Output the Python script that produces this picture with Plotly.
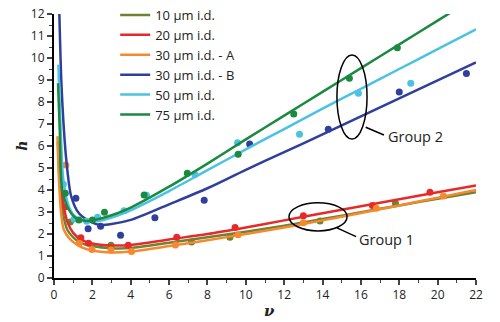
import plotly.graph_objects as go

names = ["10 μm i.d.", "20 μm i.d.", "30 μm i.d. - A", "30 μm i.d. - B", "50 μm i.d.", "75 μm i.d."]
colors = ["#6f8232", "#e8292b", "#f5892e", "#2f3f9c", "#4cc2e2", "#1b8a40"]

# fitted curves
c10_nu = [0.2, 0.28, 0.47, 0.7, 1.0, 1.4, 2.0, 3.0, 4.0, 6.0, 8.0, 10.0, 12.0, 14.0, 16.0, 18.0, 20.0, 22.0]
c10_h = [6.2, 4.6, 2.94, 2.18, 1.85, 1.6, 1.45, 1.35, 1.36, 1.6, 1.85, 2.1, 2.38, 2.68, 2.99, 3.3, 3.6, 3.9]
c20_nu = [0.25, 0.35, 0.5, 0.7, 1.0, 1.4, 2.0, 3.0, 4.0, 6.0, 8.0, 10.0, 12.0, 14.0, 16.0, 18.0, 20.0, 22.0]
c20_h = [6.0, 4.3, 3.3, 2.55, 2.05, 1.75, 1.57, 1.48, 1.5, 1.75, 2.0, 2.3, 2.62, 2.94, 3.26, 3.58, 3.9, 4.2]
c30a_nu = [0.18, 0.26, 0.37, 0.52, 0.87, 1.39, 2.0, 3.0, 4.0, 6.0, 8.0, 10.0, 12.0, 14.0, 16.0, 18.0, 20.0, 22.0]
c30a_h = [6.45, 4.45, 2.94, 2.18, 1.73, 1.42, 1.25, 1.16, 1.2, 1.45, 1.72, 2.0, 2.3, 2.62, 2.95, 3.3, 3.65, 4.0]
c30b_nu = [0.28, 0.38, 0.52, 0.66, 0.9, 1.3, 1.9, 2.4, 3.0, 4.0, 6.0, 8.0, 10.0, 12.0, 14.0, 16.0, 18.0, 20.0, 22.0]
c30b_h = [12.0, 9.0, 6.7, 5.2, 3.7, 2.94, 2.56, 2.41, 2.45, 2.64, 3.35, 4.08, 4.92, 5.72, 6.53, 7.35, 8.17, 8.98, 9.8]
c50_nu = [0.23, 0.35, 0.49, 0.78, 1.1, 1.8, 2.5, 3.0, 4.0, 6.0, 8.0, 10.0, 12.0, 14.0, 16.0, 18.0, 20.0, 22.0]
c50_h = [9.7, 6.7, 4.45, 3.24, 2.8, 2.56, 2.62, 2.75, 3.08, 3.95, 4.9, 5.85, 6.77, 7.7, 8.6, 9.5, 10.4, 11.3]
c75_nu = [0.21, 0.3, 0.43, 0.78, 1.1, 1.6, 2.0, 3.0, 4.0, 6.0, 8.0, 10.0, 12.0, 14.0, 16.0, 18.0, 20.0, 22.0]
c75_h = [8.85, 6.7, 4.0, 3.09, 2.75, 2.6, 2.62, 2.85, 3.2, 4.15, 5.2, 6.3, 7.38, 8.46, 9.54, 10.62, 11.7, 12.78]

# measured points
p10_nu = [0.85, 2.97, 7.17, 9.17, 13.87, 17.8]
p10_h = [2.55, 1.49, 1.64, 1.85, 2.59, 3.4]
p20_nu = [0.62, 1.4, 1.8, 3.87, 6.4, 9.44, 13.0, 16.6, 19.6]
p20_h = [3.24, 1.83, 1.58, 1.49, 1.85, 2.29, 2.83, 3.29, 3.9]
p30a_nu = [0.62, 1.32, 1.98, 2.97, 4.04, 6.33, 9.6, 13.0, 16.8, 20.3]
p30a_h = [5.14, 1.58, 1.3, 1.27, 1.2, 1.5, 1.97, 2.51, 3.17, 3.73]
p30b_nu = [1.14, 1.78, 2.43, 3.47, 5.26, 7.83, 10.2, 14.3, 18.0, 21.5]
p30b_h = [3.62, 2.24, 2.35, 1.94, 2.74, 3.53, 6.09, 6.76, 8.45, 9.29]
p50_nu = [0.49, 1.05, 1.7, 2.27, 3.65, 4.82, 7.35, 9.57, 12.8, 15.87, 18.6]
p50_h = [4.26, 2.68, 2.58, 2.76, 3.06, 3.76, 4.7, 6.15, 6.53, 8.4, 8.85]
p75_nu = [0.59, 1.3, 2.0, 2.63, 4.7, 6.95, 9.6, 12.5, 15.4, 17.9]
p75_h = [3.85, 2.64, 2.64, 2.99, 3.77, 4.76, 5.62, 7.45, 9.08, 10.47]

x_ticks = list(range(0, 23, 2))
y_ticks = list(range(0, 13))

curves = [(c10_nu, c10_h), (c20_nu, c20_h), (c30a_nu, c30a_h), (c30b_nu, c30b_h), (c50_nu, c50_h), (c75_nu, c75_h)]
points = [(p10_nu, p10_h), (p20_nu, p20_h), (p30a_nu, p30a_h), (p30b_nu, p30b_h), (p50_nu, p50_h), (p75_nu, p75_h)]

fig = go.Figure()
for name, col, (cx, cy), (px, py) in zip(names, colors, curves, points):
    fig.add_trace(go.Scatter(x=px, y=py, mode="markers", marker=dict(color=col, size=7),
                             showlegend=False, hoverinfo="skip"))
    fig.add_trace(go.Scatter(x=cx, y=cy, mode="lines", name=name,
                             line=dict(color=col, width=2.5, shape="spline", smoothing=0.8)))

font_family = "Open Sans"
fig.update_layout(
    width=500, height=322,
    margin=dict(l=54, r=24, t=14, b=44, autoexpand=False),
    paper_bgcolor="white", plot_bgcolor="white",
    font=dict(family=font_family, size=12, color="#222"),
    legend=dict(x=0.145, y=1.0, yref="container", xanchor="left", yanchor="top", bgcolor="rgba(0,0,0,0)",
                font=dict(size=13, family=font_family, color="#222"), itemwidth=30, tracegroupgap=0),
    showlegend=True,
)
fig.update_xaxes(range=[0, 22], tickvals=x_ticks, ticks="outside", ticklen=5, tickwidth=1.5,
                 showline=True, linecolor="black", linewidth=2, showgrid=False, zeroline=False,
                 minor=dict(dtick=1, ticks="outside", ticklen=3, tickwidth=1.2),
                 tickfont=dict(size=12))
fig.update_yaxes(range=[0, 12], tickvals=y_ticks, ticks="outside", ticklen=5, tickwidth=1.5,
                 showline=True, linecolor="black", linewidth=2, showgrid=False, zeroline=False,
                 minor=dict(dtick=0.5, ticks="outside", ticklen=3, tickwidth=1.2),
                 tickfont=dict(size=12))

fig.add_annotation(xref="paper", yref="paper", x=-0.1, y=0.5, text="<i><b>h</b></i>", showarrow=False,
                   textangle=-90, font=dict(size=14, family="DejaVu Serif"))
fig.add_annotation(xref="paper", yref="paper", x=0.51, y=-0.125, text="<b><i>ν</i></b>", showarrow=False,
                   yanchor="middle", font=dict(size=15, family="DejaVu Serif"))

# group annotations
fig.add_shape(type="circle", xref="x", yref="y", x0=14.75, x1=16.32, y0=6.32, y1=10.14,
              line=dict(color="black", width=1.5))
fig.add_shape(type="line", xref="x", yref="y", x0=16.25, y0=6.85, x1=17.2, y1=6.5,
              line=dict(color="black", width=1.5))
fig.add_annotation(x=17.3, y=6.45, xref="x", yref="y", text="Group 2", showarrow=False,
                   xanchor="left", font=dict(size=14.5))
fig.add_shape(type="circle", xref="x", yref="y", x0=12.25, x1=15.28, y0=2.14, y1=3.42,
              line=dict(color="black", width=1.5))
fig.add_shape(type="line", xref="x", yref="y", x0=14.75, y0=2.28, x1=15.75, y1=1.88,
              line=dict(color="black", width=1.5))
fig.add_annotation(x=15.8, y=1.77, xref="x", yref="y", text="Group 1", showarrow=False,
                   xanchor="left", font=dict(size=14.5))

fig.write_html("out.html")
